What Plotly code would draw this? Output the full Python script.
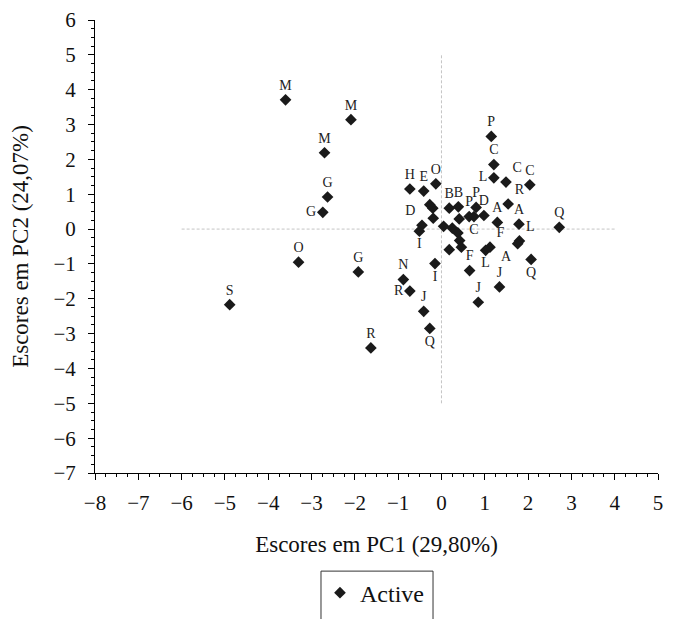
import plotly.graph_objects as go

# Data (PC1, PC2 scores and labels)
pc1 = [-3.60, -2.09, -2.70, -2.63, -2.74, -3.30, -1.92, -4.89, -1.63,
       1.15, 1.21, 1.21, 1.49, 2.04, 1.54, 1.79, 1.29, 2.72, 1.80, 1.76,
       2.07, 1.12, 1.02, 0.65, 1.34, 0.85, -0.15, -0.88, -0.73, -0.41,
       -0.27, -0.45, -0.51, -0.73, -0.41, -0.13, -0.27, -0.20, -0.19,
       0.18, 0.39, 0.41, 0.80, 0.64, 0.75, 0.98, 0.05, 0.25, 0.38, 0.42,
       0.46, 0.18]
pc2 = [3.71, 3.14, 2.19, 0.92, 0.48, -0.95, -1.23, -2.17, -3.41,
       2.66, 1.85, 1.47, 1.35, 1.27, 0.72, 0.14, 0.19, 0.05, -0.34, -0.42,
       -0.87, -0.52, -0.61, -1.19, -1.66, -2.10, -0.99, -1.45, -1.78, -2.36,
       -2.85, 0.11, -0.06, 1.15, 1.09, 1.30, 0.70, 0.60, 0.31,
       0.60, 0.64, 0.29, 0.62, 0.36, 0.36, 0.39, 0.08, 0.03, -0.11, -0.33,
       -0.52, -0.59]
labels = ["M", "M", "M", "G", "G", "O", "G", "S", "R",
          "P", "C", "L", "C", "C", "R", "A", "A", "Q", "L", "A",
          "Q", "F", "L", "F", "J", "J", "I", "N", "R", "J",
          "Q", "D", "I", "H", "E", "O", "", "", "",
          "B", "B", "", "P", "P", "C", "D", "", "", "", "",
          "", ""]
label_pos = ["top center", "top center", "top center", "top center", "middle left",
             "top center", "top center", "top center", "top center",
             "top center", "top center", "middle left", "top right", "top center",
             "top right", "top center", "top center", "top center", "top right",
             "bottom left", "bottom center", "top right", "bottom center",
             "top center", "top center", "top center", "bottom center",
             "top center", "middle left", "top center", "bottom center",
             "top left", "bottom center", "top center", "top center", "top center",
             "top center", "top center", "top center",
             "top center", "top center", "top center", "top center", "top center",
             "bottom center", "top center", "top center", "top center",
             "top center", "top center", "top center", "top center"]

series_name = "Active"
x_title = "Escores em PC1 (29,80%)"
y_title = "Escores em PC2 (24,07%)"
x_range = [-8, 5]
y_range = [-7, 6]
# dashed reference lines through the origin
h_ref = dict(y=0, x_from=-6, x_to=4)
v_ref = dict(x=0, y_from=-5, y_to=5)

FONT = "Liberation Serif, Times New Roman, serif"

fig = go.Figure()
fig.add_trace(go.Scatter(
    x=pc1, y=pc2, mode="markers+text", name=series_name,
    text=labels, textposition=label_pos,
    textfont=dict(family=FONT, size=14, color="#222222"),
    marker=dict(symbol="diamond", size=9, color="#1a1a1a"),
    cliponaxis=False,
))

fig.add_shape(type="line", xref="x", yref="y",
              x0=h_ref["x_from"], x1=h_ref["x_to"], y0=h_ref["y"], y1=h_ref["y"],
              line=dict(color="#c4c4c4", width=1, dash="3px,2px"), layer="below")
fig.add_shape(type="line", xref="x", yref="y",
              x0=v_ref["x"], x1=v_ref["x"], y0=v_ref["y_from"], y1=v_ref["y_to"],
              line=dict(color="#c4c4c4", width=1, dash="3px,2px"), layer="below")

# legend frame
fig.add_shape(type="rect", xref="paper", yref="paper",
              x0=0.4014, x1=0.6004, y0=-0.2166, y1=-0.45,
              line=dict(color="#333333", width=1), fillcolor="rgba(0,0,0,0)")

axis_common = dict(
    showline=True, linecolor="black", linewidth=1,
    ticks="outside", ticklen=6, tickwidth=1, tickcolor="black",
    showgrid=False, zeroline=False, automargin=False,
    tickfont=dict(family=FONT, size=21, color="#111111"),
    minor=dict(ticks="outside", ticklen=3, tickwidth=1, tickcolor="black", dtick=0.25),
    dtick=1,
)

fig.update_layout(
    width=681, height=619,
    margin=dict(l=87, r=31, t=12, b=150),
    plot_bgcolor="white", paper_bgcolor="white",
    font=dict(family=FONT, color="#111111"),
    xaxis=dict(range=x_range, tick0=-8, ticklabelstandoff=5,
               title=dict(text=x_title, font=dict(family=FONT, size=23), standoff=21),
               **axis_common),
    yaxis=dict(range=y_range, tick0=-7, ticklabelstandoff=8,
               title=dict(text=y_title, font=dict(family=FONT, size=23), standoff=18),
               **axis_common),
    showlegend=True,
    legend=dict(x=0.3996, xanchor="left", y=-0.265, yanchor="middle",
                font=dict(family=FONT, size=24, color="#111111"),
                bgcolor="rgba(0,0,0,0)", borderwidth=0, itemwidth=30),
)

fig.write_html("out.html")
